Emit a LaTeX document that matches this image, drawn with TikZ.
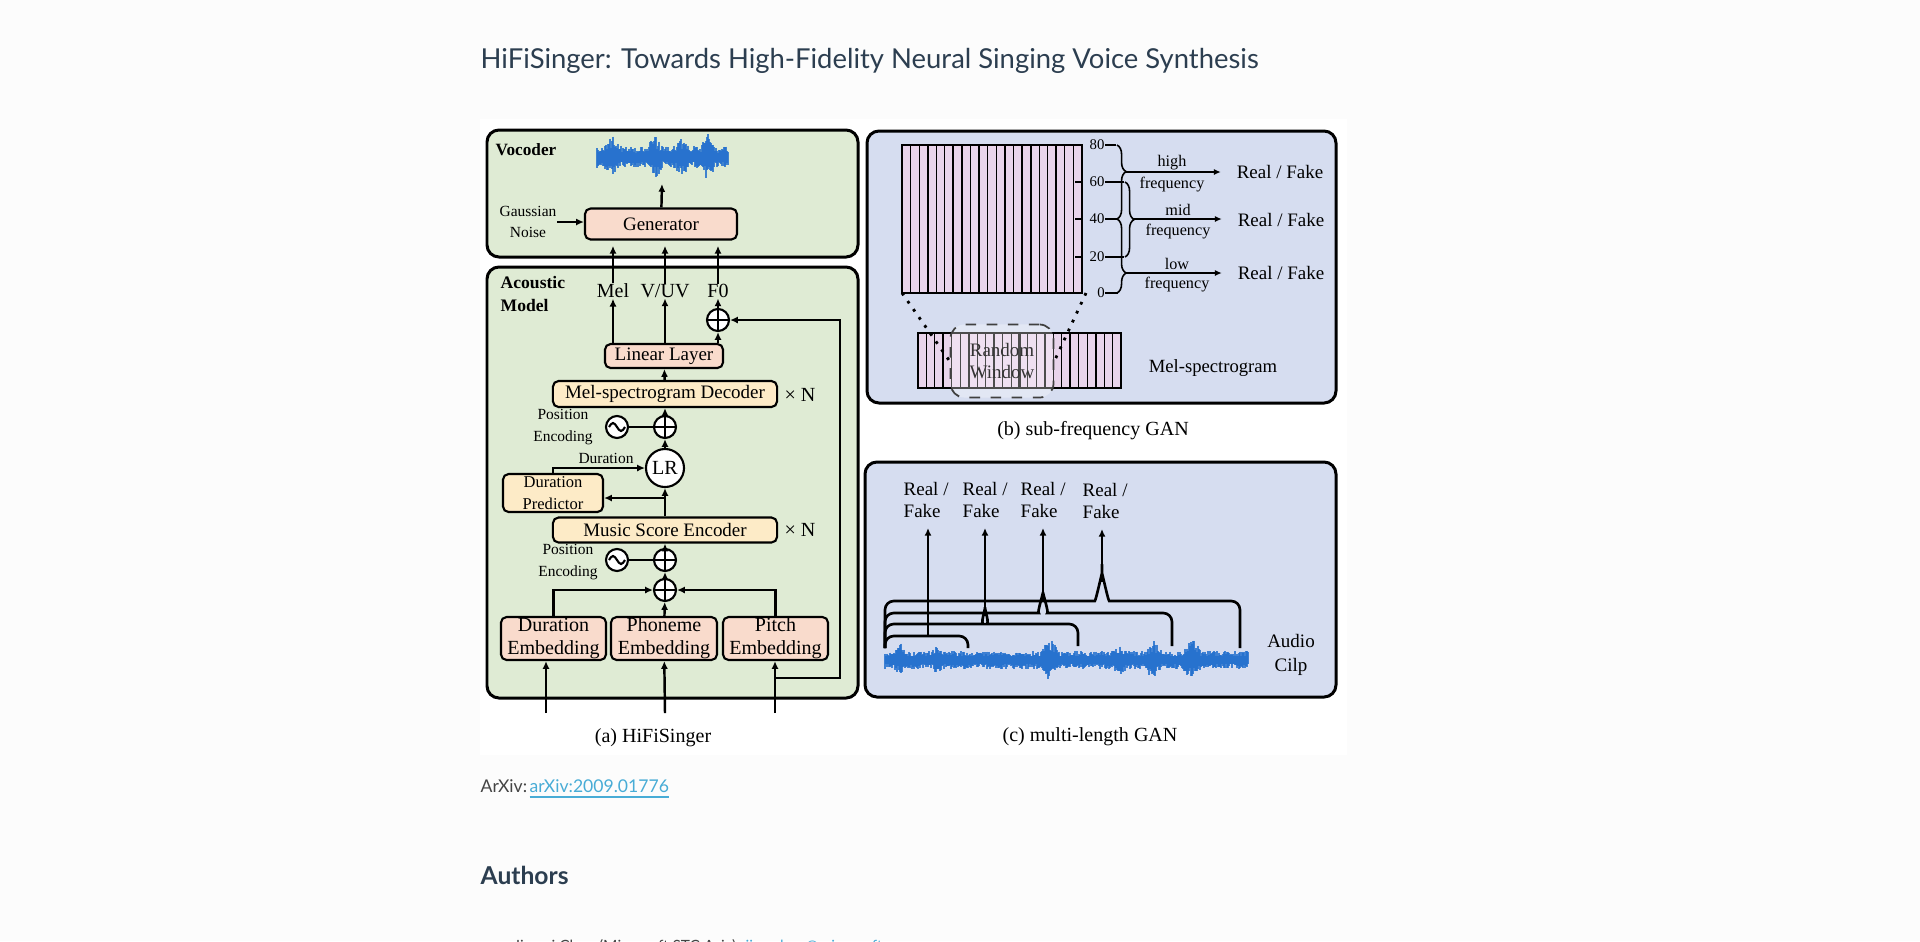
\documentclass[tikz,border=0pt]{standalone}
\usepackage{fontspec}
\setmainfont{Liberation Serif}
\newfontfamily\webfont{Lato}
\usetikzlibrary{positioning}
\usetikzlibrary{calc}
\usetikzlibrary{arrows.meta}
\usetikzlibrary{decorations.pathreplacing}

\definecolor{pagebg}{RGB}{252,252,252}
\definecolor{vocgreen}{RGB}{223,235,212}
\definecolor{ganblue}{RGB}{214,221,240}
\definecolor{boxpink}{RGB}{249,219,204}
\definecolor{boxyellow}{RGB}{253,235,199}
\definecolor{specpink}{RGB}{233,212,235}
\definecolor{waveblue}{RGB}{36,112,206}
\definecolor{titlegray}{RGB}{44,62,80}
\definecolor{textgray}{RGB}{68,68,68}
\definecolor{linkblue}{RGB}{72,172,214}

\begin{document}
\begin{tikzpicture}[x=0.01cm, y=-0.01cm,
        Panel/.style={draw=black, line width=0.85pt, rounded corners=3.4pt},
        Box/.style={rectangle, draw=black, line width=0.6pt, rounded corners=1.6pt, inner sep=0pt, align=center, font=\fontsize{5.4pt}{6.4pt}\selectfont},
        PinkBox/.style={Box, fill=boxpink},
        YellowBox/.style={Box, fill=boxyellow},
        EmbBox/.style={PinkBox, minimum width=1.05cm, minimum height=0.43cm, font=\fontsize{5.7pt}{6.6pt}\selectfont},
        Add/.style={circle, draw=black, fill=white, line width=0.6pt, minimum size=0.22cm, inner sep=0pt,
            path picture={\draw[line width=0.6pt] (path picture bounding box.north) -- (path picture bounding box.south)
                (path picture bounding box.west) -- (path picture bounding box.east);}},
        Osc/.style={circle, draw=black, fill=white, line width=0.6pt, minimum size=0.22cm, inner sep=0pt,
            path picture={\draw[line width=0.6pt] ([xshift=-0.8mm]path picture bounding box.center)
                sin ++(0.4mm,0.4mm) cos ++(0.4mm,-0.4mm) sin ++(0.4mm,-0.4mm) cos ++(0.4mm,0.4mm);}},
        Arr/.style={-{Latex[length=2.2pt,width=2pt]}, line width=0.7pt},
        Lbl/.style={inner sep=0pt, align=center, font=\fontsize{4.4pt}{6pt}\selectfont},
        OutLbl/.style={inner sep=0pt, font=\fontsize{5.7pt}{6.6pt}\selectfont},
        Cap/.style={inner sep=0pt, font=\fontsize{5.7pt}{6.6pt}\selectfont},
        RealFake/.style={font=\fontsize{5.4pt}{6.5pt}\selectfont},
        Freq/.style={inner sep=0pt, font=\fontsize{4.6pt}{5.5pt}\selectfont},
        TickLbl/.style={inner sep=0pt, font=\fontsize{4.2pt}{5pt}\selectfont},
        Brk/.style={line width=0.75pt, rounded corners=2.5pt},
        Wave/.style={waveblue, line width=0.34pt, opacity=0.85},
        ]
    \useasboundingbox (0,0) rectangle (1920,941);
    \fill[pagebg] (0,0) rectangle (1920,941);
    \fill[white] (480,119) rectangle (1347,755);

    % page text
    \node[anchor=base west, inner sep=0pt, text=titlegray, font=\webfont\fontsize{7.8pt}{9pt}\selectfont] (title) at (480,68)
        {HiFiSinger: Towards High-Fidelity Neural Singing Voice Synthesis};
    \node[anchor=base west, inner sep=0pt, text=textgray, font=\webfont\fontsize{5pt}{7pt}\selectfont] (arxiv) at (480,792) {ArXiv:};
    \node[anchor=base west, inner sep=0pt, text=linkblue, font=\webfont\fontsize{5pt}{7pt}\selectfont] (link) at (529,792) {\underline{arXiv:2009.01776}};
    \node[anchor=base west, inner sep=0pt, text=titlegray, font=\webfont\bfseries\fontsize{7pt}{9pt}\selectfont] (authors) at (480,884) {Authors};
    \node[anchor=base west, inner sep=0pt, text=textgray, font=\webfont\fontsize{4.4pt}{7pt}\selectfont] (author1) at (513,951) {Jiawei Chen (Microsoft STC Asia)};
    \node[anchor=base west, inner sep=0pt, text=linkblue, font=\webfont\fontsize{4.4pt}{7pt}\selectfont] (mail1) at (745,951) {jiawchen@microsoft.com};

    % (a) vocoder
    \draw[Panel, fill=vocgreen] (487,130) rectangle (858,257);
    \node[anchor=west, inner sep=0pt, font=\bfseries\fontsize{4.9pt}{6pt}\selectfont] (voc) at (495,150) {Vocoder};
    \pgfmathsetseed{11}
    \foreach \i in {0,...,131}{
        \pgfmathsetmacro{\wx}{597+\i}
        \pgfmathsetmacro{\env}{11+12*max(0,1-abs(\wx-613)/9)+14*max(0,1-abs(\wx-655)/7)+10*max(0,1-abs(\wx-681)/8)+15*max(0,1-abs(\wx-708)/7)}
        \pgfmathsetmacro{\up}{\env*(0.4+0.6*rnd)}
        \pgfmathsetmacro{\dn}{\env*(0.4+0.6*rnd)}
        \draw[Wave] (\wx,157-\up) -- (\wx,157+\dn);
    }
    \coordinate (waveIn) at (662,184);
    \node[PinkBox, minimum width=1.52cm, minimum height=0.31cm] (gen) at (661,224) {Generator};
    \node[Lbl] (noise) at (528,222) {Gaussian\\Noise};
    \draw[Arr] (noise.east) -- (noise.east -| gen.west);
    \draw[Arr] (gen) -- (waveIn);

    % (a) acoustic model
    \draw[Panel, fill=vocgreen] (487,267) rectangle (858,698);
    \node[anchor=west, inner sep=0pt, align=left, font=\bfseries\fontsize{5pt}{6.3pt}\selectfont] (am) at (500,294) {Acoustic\\Model};
    \node[OutLbl] (mel) at (613,291) {Mel};
    \node[OutLbl] (vuv) at (665,291) {V/UV};
    \node[OutLbl] (f0) at (718,291) {F0};
    \draw[Arr, shorten >=1.5pt] (mel) -- (mel |- gen.south);
    \draw[Arr, shorten >=1.5pt] (vuv) -- (vuv |- gen.south);
    \draw[Arr, shorten >=1.5pt] (f0) -- (f0 |- gen.south);

    \node[Add] (addF) at (718,320) {};
    \node[PinkBox, minimum width=1.18cm, minimum height=0.24cm] (lin) at (664,356) {Linear Layer};
    \node[YellowBox, minimum width=2.24cm, minimum height=0.26cm] (dec) at (665,394) {Mel-spectrogram Decoder};
    \node[Box, draw=none, font=\fontsize{5.7pt}{6.6pt}\selectfont] (decN) at (800,395) {× N};
    \node[Add] (add1) at (665,427) {};
    \node[Osc] (osc1) at (617,427) {};
    \node[Lbl] (pe1) at (563,427) {Position\\Encoding};
    \node[circle, draw=black, fill=white, line width=0.6pt, minimum size=0.38cm, inner sep=0pt, font=\fontsize{5.7pt}{6.6pt}\selectfont] (lr) at (665,468) {LR};
    \node[Lbl] (durl) at (606,458) {Duration};
    \node[YellowBox, minimum width=1cm, minimum height=0.38cm, font=\fontsize{4.7pt}{6.2pt}\selectfont] (dp) at (553,493) {Duration\\Predictor};
    \node[YellowBox, minimum width=2.24cm, minimum height=0.25cm] (enc) at (665,530) {Music Score Encoder};
    \node[Box, draw=none, font=\fontsize{5.7pt}{6.6pt}\selectfont] (encN) at (800,530) {× N};
    \node[Add] (add2) at (665,560) {};
    \node[Osc] (osc2) at (617,560) {};
    \node[Lbl] (pe2) at (568,562) {Position\\Encoding};
    \node[Add] (add3) at (665,590) {};
    \node[EmbBox] (demb) at (553.5,638.5) {Duration\\Embedding};
    \node[EmbBox, minimum width=1.06cm] (pemb) at (664,638.5) {Phoneme\\Embedding};
    \node[EmbBox] (temb) at (775.5,638.5) {Pitch\\Embedding};

    \coordinate (in1) at (546,713);
    \coordinate (in2) at (665,713);
    \coordinate (in3) at (775,713);
    \coordinate (brDP) at (665,498);
    \coordinate (fb1) at (775,678);
    \coordinate (fb2) at (840,678);
    \coordinate (fb3) at (840,320);

    \draw[Arr] (in1) -- (in1 |- demb.south);
    \draw[Arr] (in2) -- (pemb);
    \draw[Arr] (in3) -- (in3 |- temb.south);
    \draw[Arr] (fb1) -- (fb2) -- (fb3) -- (addF);
    \draw[Arr] (pemb) -- (add3);
    \draw[Arr] (demb.north) |- (add3);
    \draw[Arr] (temb.north) |- (add3);
    \draw[Arr] (add3) -- (add2);
    \draw[line width=0.7pt] (osc2) -- (add2);
    \draw[Arr] (add2) -- (enc);
    \draw[Arr] (enc) -- (lr);
    \draw[Arr] (brDP) -- (brDP -| dp.east);
    \draw[Arr] (dp.north) |- (lr);
    \draw[Arr] (lr) -- (add1);
    \draw[line width=0.7pt] (osc1) -- (add1);
    \draw[Arr] (add1) -- (dec);
    \draw[Arr] (dec) -- (lin);
    \draw[Arr] (mel |- lin.north) -- (mel);
    \draw[Arr] (vuv |- lin.north) -- (vuv);
    \draw[Arr] (f0 |- lin.north) -- (addF);
    \draw[Arr] (addF) -- (f0);
    \node[Cap] (capA) at (653,738) {(a) HiFiSinger};

    % (b) sub-frequency GAN
    \draw[Panel, fill=ganblue] (867,131) rectangle (1336,403);
    \fill[specpink] (902,145) rectangle (1082,293);
    \foreach \i in {1,...,20}
        \draw[line width=0.3pt] (902+\i*180/21,145) -- (902+\i*180/21,293);
    \foreach \i in {3,6,...,18}
        \draw[line width=0.6pt] (902+\i*180/21,145) -- (902+\i*180/21,293);
    \draw[line width=0.75pt] (902,145) rectangle (1082,293);
    \foreach \v/\y in {60/182, 40/219, 20/257}
        \draw[line width=0.45pt] (1075,\y) -- (1082,\y);
    \node[TickLbl] (t80) at (1097,145) {80};
    \node[TickLbl] (t60) at (1097,182) {60};
    \node[TickLbl] (t40) at (1097,219) {40};
    \node[TickLbl] (t20) at (1097,257) {20};
    \node[TickLbl] (t0) at (1101,293) {0};
    \draw[line width=0.45pt] (t80.east) -- ++(11,0);
    \draw[line width=0.45pt] (t60.east) -- ++(19,0);
    \draw[line width=0.45pt] (t40.east) -- ++(12,0);
    \draw[line width=0.45pt] (t20.east) -- ++(19,0);
    \draw[line width=0.45pt] (t0.east) -- ++(13,0);
    \draw[line width=0.45pt, decorate, decoration={brace, amplitude=2.6pt, aspect=0.36}] (1117,145) -- (1117,219);
    \draw[line width=0.45pt, decorate, decoration={brace, amplitude=2.6pt, aspect=0.73}] (1117,219) -- (1117,293);
    \draw[line width=0.45pt, decorate, decoration={brace, amplitude=2.6pt, aspect=0.5}] (1125,182) -- (1125,257);
    \coordinate (hiTip) at (1126,172);
    \coordinate (midTip) at (1134,219);
    \coordinate (loTip) at (1126,273);
    \node[RealFake] (rfHi) at (1280,172) {Real / Fake};
    \node[RealFake] (rfMid) at (1281,220) {Real / Fake};
    \node[RealFake] (rfLo) at (1281,273) {Real / Fake};
    \draw[-{Latex[length=2pt,width=1.8pt]}, line width=0.45pt, shorten >=1pt] (hiTip) -- (rfHi);
    \draw[-{Latex[length=2pt,width=1.8pt]}, line width=0.45pt, shorten >=1pt] (midTip) -- (midTip -| rfMid.west);
    \draw[-{Latex[length=2pt,width=1.8pt]}, line width=0.45pt, shorten >=1pt] (loTip) -- (rfLo);
    \node[Freq] (hiA) at (1172,163) {high};
    \node[Freq] (hiB) at (1172,185) {frequency};
    \node[Freq] (midA) at (1178,210) {mid};
    \node[Freq] (midB) at (1178,232) {frequency};
    \node[Freq] (loA) at (1177,264) {low};
    \node[Freq] (loB) at (1177,285) {frequency};

    \fill[specpink] (918,333) rectangle (1121,388);
    \foreach \i in {1,...,23}
        \draw[line width=0.3pt] (918+\i*203/24,333) -- (918+\i*203/24,388);
    \foreach \i in {3,6,...,21}
        \draw[line width=0.6pt] (918+\i*203/24,333) -- (918+\i*203/24,388);
    \draw[line width=0.45pt] (918,333) rectangle (1121,388);
    \node[draw=black!75, dashed, line width=0.5pt, rounded corners=4pt, fill=white, fill opacity=0.3, text opacity=1, text=black!80,
        minimum width=1.03cm, minimum height=0.73cm, inner sep=0pt, align=center, font=\fontsize{5.4pt}{6.2pt}\selectfont] (win) at (1002,361) {Random\\Window};
    \coordinate (bigSW) at (902,293);
    \coordinate (bigSE) at (1086,293);
    \draw[dotted, line width=0.8pt] (bigSW) -- (win.west);
    \draw[dotted, line width=0.8pt] (bigSE) -- (win.east);
    \node[inner sep=0pt, font=\fontsize{5.3pt}{6.2pt}\selectfont] (melL) at (1213,368) {Mel-spectrogram};
    \node[Cap] (capB) at (1093,431) {(b) sub-frequency GAN};

    % (c) multi-length GAN
    \draw[Panel, fill=ganblue] (865,462) rectangle (1336,697);
    \pgfmathsetseed{5}
    \foreach \i in {0,...,363}{
        \pgfmathsetmacro{\wx}{885+\i}
        \pgfmathsetmacro{\env}{9+9*max(0,1-abs(\wx-900)/6)+5*max(0,1-abs(\wx-938)/8)+14*max(0,1-abs(\wx-1050)/9)+6*max(0,1-abs(\wx-1120)/8)+11*max(0,1-abs(\wx-1153)/9)+13*max(0,1-abs(\wx-1192)/10)}
        \pgfmathsetmacro{\up}{\env*(0.4+0.6*rnd)}
        \pgfmathsetmacro{\dn}{\env*(0.4+0.6*rnd)}
        \draw[Wave] (\wx,660-\up) -- (\wx,660+\dn);
    }
    \node[RealFake, anchor=west, inner sep=0pt, align=left] (rf1) at (903,500) {Real /\\Fake};
    \node[RealFake, anchor=west, inner sep=0pt, align=left] (rf2) at (962,500) {Real /\\Fake};
    \node[RealFake, anchor=west, inner sep=0pt, align=left] (rf3) at (1020,500) {Real /\\Fake};
    \node[RealFake, anchor=west, inner sep=0pt, align=left] (rf4) at (1082,501) {Real /\\Fake};
    \coordinate (tip1) at (928,636);
    \coordinate (tip2) at (985,616);
    \coordinate (tip3) at (1043,601);
    \coordinate (tip4) at (1102,582);
    % y runs downwards here, so in=90 comes from below
    \draw[Brk] (885,648) -- (885,636) -- (968,636) -- (968,648);
    \draw[Brk] (885,648) -- (885,624) -- (975,624) to[out=0,in=90] (tip2) to[out=90,in=180] (995,624) -- (1078,624) -- (1078,646);
    \draw[Brk] (885,648) -- (885,613) -- (1030,613) to[out=0,in=90] (tip3) to[out=90,in=180] (1056,613) -- (1172,613) -- (1172,646);
    \draw[Brk] (885,648) -- (885,601) -- (1086,601) to[out=0,in=90] (tip4) to[out=90,in=180] (1118,601) -- (1240,601) -- (1240,648);
    \draw[Arr, shorten >=2.6pt] (tip1) -- (tip1 |- rf1.south);
    \draw[Arr, shorten >=2.6pt] (tip2) -- (tip2 |- rf2.south);
    \draw[Arr, shorten >=2.6pt] (tip3) -- (tip3 |- rf3.south);
    \draw[Arr, shorten >=2.6pt] (tip4) -- (tip4 |- rf4.south);
    \node[inner sep=0pt, align=center, font=\fontsize{5.4pt}{6.8pt}\selectfont] (audio) at (1291,655) {Audio\\Cilp};
    \node[Cap] (capC) at (1090,737) {(c) multi-length GAN};
\end{tikzpicture}
\end{document}
